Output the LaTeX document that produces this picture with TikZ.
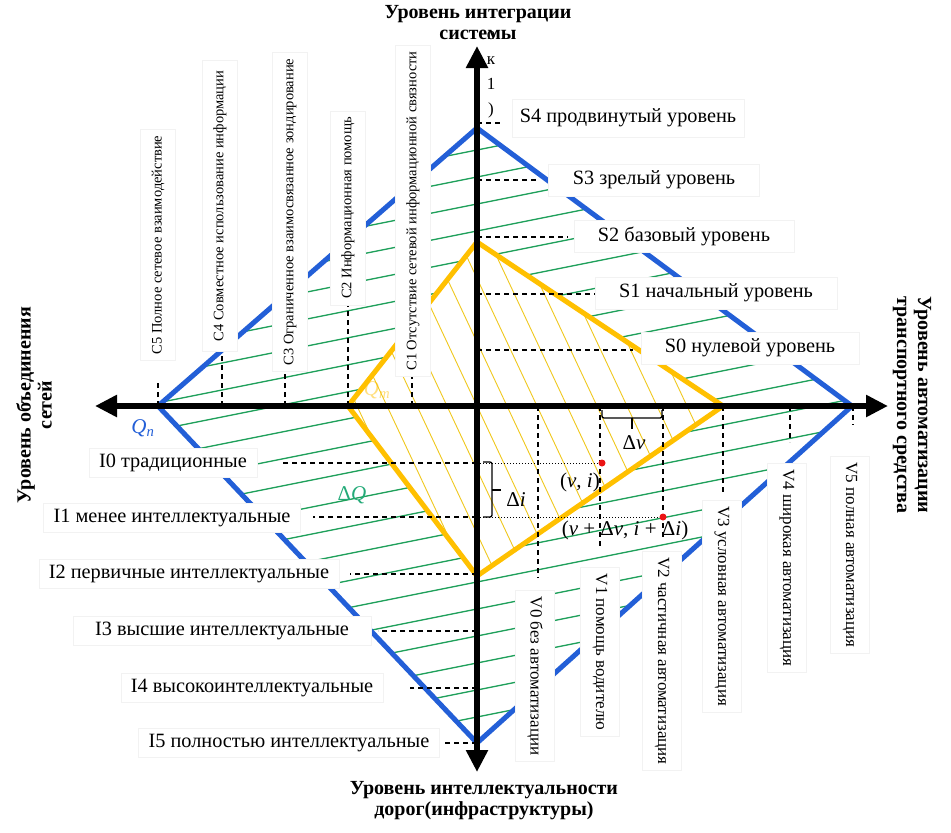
\documentclass[tikz,border=0pt]{standalone}
\usepackage{fontspec}
\setmainfont{Liberation Serif}
\usetikzlibrary{arrows.meta}
\definecolor{bl}{RGB}{35,95,215}
\definecolor{yl}{RGB}{255,192,0}
\definecolor{ylh}{RGB}{240,200,30}
\definecolor{gr}{RGB}{30,160,90}
\definecolor{dq}{RGB}{35,170,120}
\definecolor{rd}{RGB}{235,20,20}
\begin{document}
\begin{tikzpicture}[x=1pt,y=-1pt,
 axisline/.style={line width=6pt, {Triangle[length=22pt,width=21pt]}-{Triangle[length=22pt,width=21pt]}},
 bline/.style={bl, line width=5pt},
 yline/.style={yl, line width=5pt},
 ghatch/.style={gr, line width=1.3pt},
 yhatch/.style={ylh, line width=0.9pt},
 dline/.style={black, line width=1.2pt, dash pattern=on 5pt off 4pt},
 dotline/.style={black, line width=0.8pt, dash pattern=on 1pt off 2pt},
 lab/.style={fill=white, draw=black!5, line width=0.6pt},
 slab/.style={lab, font=\fontsize{20.3}{22}\selectfont, inner xsep=24pt, inner ysep=0pt, minimum height=32pt},
 ilab/.style={lab, font=\fontsize{20.3}{22}\selectfont, inner xsep=10pt, inner ysep=0pt, minimum height=29pt},
 clab/.style={lab, rotate=90, font=\fontsize{14.5}{16}\selectfont, inner xsep=6pt, inner ysep=11pt},
 vlab/.style={lab, rotate=-90, font=\fontsize{17}{19}\selectfont, inner xsep=6pt, inner ysep=12pt},
 ttl/.style={font=\fontsize{20}{21}\selectfont\bfseries, align=center},
 mth/.style={font=\fontsize{21}{24}\selectfont, inner sep=1pt},
 brk/.style={black, line width=1.3pt, rounded corners=2pt},
]
\useasboundingbox (0,0) rectangle (951,833);

% axes ends
\coordinate (O) at (477,406);
\coordinate (Ltip) at (95,406);
\coordinate (Rtip) at (888,406);
\coordinate (Ttip) at (477,46);
\coordinate (Btip) at (477,772);
% blue diamond
\coordinate (bT) at (477,128);
\coordinate (bR) at (852,406);
\coordinate (bB) at (477,743);
\coordinate (bL) at (158,406);
% yellow quadrilateral
\coordinate (yT) at (477,242);
\coordinate (yR) at (723,406);
\coordinate (yB) at (477,576);
\coordinate (yL) at (348,406);

% green hatching
\begin{scope}
\clip (bT)--(bR)--(bB)--(bL)--cycle;
\foreach \c in {150,177,...,750}
  \draw[ghatch] (120,{\c+71.4}) -- (880,{\c-80.6});
\end{scope}
\fill[white] (yT)--(yR)--(yB)--(yL)--cycle;
% yellow hatching
\begin{scope}
\clip (yT)--(yR)--(yB)--(yL)--cycle;
\foreach \d in {357,387,...,717}
  \draw[yhatch] ({\d-79.9},236) -- ({\d+82.7},582);
\end{scope}
\draw[yline] (yT)--(yR)--(yB)--(yL)--cycle;
\draw[bline] (bT)--(bR)--(bB)--(bL)--cycle;

% tick coordinates and dashed leaders
\foreach \n/\y/\e in {S4/123/500,S3/180/537,S2/237/568,S1/294/600,S0/350/633}{
  \coordinate (t\n) at (477,\y);
  \coordinate (e\n) at (\e,\y);
  \draw[dline] (t\n) -- (e\n);
}
\foreach \n/\y/\e in {I0/463/283,I1/517/313,I2/574/350,I3/631/378,I4/688/410,I5/743/443}{
  \coordinate (t\n) at (477,\y);
  \coordinate (e\n) at (\e,\y);
  \draw[dline] (t\n) -- (e\n);
}
\foreach \n/\x/\e in {C5/158/382,C4/222/347,C3/285/368,C2/348/303,C1/412/373}{
  \coordinate (t\n) at (\x,406);
  \coordinate (e\n) at (\x,\e);
  \draw[dline] (t\n) -- (e\n);
}
\foreach \n/\x/\e in {V0/538/578,V1/600/547,V2/663/540,V3/723/492,V4/790/442,V5/853/425}{
  \coordinate (t\n) at (\x,406);
  \coordinate (e\n) at (\x,\e);
  \draw[dline] (t\n) -- (e\n);
}
% points
\coordinate (vi) at (602,463);
\coordinate (vi2) at (663,517);
\draw[dotline] (tI0) -- (vi);
\draw[dotline] (tI1) -- (vi2);

% labels
\node[slab, inner xsep=8pt, minimum height=38pt] (S4) at (628,118) {S4 продвинутый уровень};
\node[slab] (S3) at (654,180) {S3 зрелый уровень};
\node[slab] (S2) at (684,236) {S2 базовый уровень};
\node[slab] (S1) at (716,293) {S1 начальный уровень};
\node[slab] (S0) at (750,348) {S0 нулевой уровень};

\node[ilab] (I0) at (173,463) {I0 традиционные};
\node[ilab] (I1) at (172,518) {I1 менее интеллектуальные};
\node[ilab] (I2) at (189,574) {I2 первичные интеллектуальные};
\node[ilab, inner xsep=22pt] (I3) at (222,631) {I3 высшие интеллектуальные};
\node[ilab] (I4) at (252,688) {I4 высокоинтеллектуальные};
\node[ilab] (I5) at (289,743) {I5 полностью интеллектуальные};

\node[clab] (C5) at (158,245) {C5 Полное сетевое взаимодействие};
\node[clab, inner xsep=10pt] (C4) at (220,206) {C4 Совместное использование информации};
\node[clab] (C3) at (290,212) {C3 Ограниченное взаимосвязанное зондирование};
\node[clab] (C2) at (348,208) {C2 Информационная помощь};
\node[clab] (C1) at (413,211) {C1 Отсутствие сетевой информационной связности};

\node[vlab] (V0) at (535,676) {V0 без автоматизации};
\node[vlab] (V1) at (600,652) {V1 помощь водителю};
\node[vlab] (V2) at (662,661) {V2 частичная автоматизация};
\node[vlab] (V3) at (722,606) {V3 условная автоматизация};
\node[vlab] (V4) at (787,568) {V4 широкая автоматизация};
\node[vlab] (V5) at (850,555) {V5 полная автоматизация};

% axes
\draw[axisline] (Ltip) -- (Rtip);
\draw[axisline] (Btip) -- (Ttip);

% braces and points
\draw[brk] (602,410) -- (602,418) -- (662,418) -- (662,410);
\draw[brk] (632,418) -- (632,429);
\draw[brk] (483,462) -- (492,462) -- (492,517) -- (483,517);
\draw[brk] (492,490) -- (501,490);
\fill[rd] (vi) circle (3.5pt);
\fill[rd] (vi2) circle (3.5pt);

% math labels
\node[mth, text=bl] (Qn) at (143,428) {\textit{Q}\textsubscript{\textit{n}}};
\node[mth, text=yl, opacity=0.5] (Qm) at (377,390) {\textit{Q}\textsubscript{\textit{m}}};
\node[mth, text=dq] (dQ) at (352,495) {Δ\textit{Q}};
\node[mth] (dv) at (634,443) {Δ\textit{v}};
\node[mth] (di) at (516,500) {Δ\textit{i}};
\node[mth] (pvi) at (580,482) {(\textit{v}, \textit{i})};
\node[mth] (pvi2) at (625,530) {(\textit{v} + Δ\textit{v}, \textit{i} + Δ\textit{i})};

% stray vertical characters
\node[font=\fontsize{17}{25}\selectfont, align=center, inner sep=0pt] (odd) at (491,75) {о\\к\\1\\)};

% axis titles
\node[ttl] (tTop) at (478,23) {Уровень интеграции\\системы};
\node[ttl] (tBot) at (484,801) {Уровень интеллектуальности\\дорог(инфраструктуры)};
\node[ttl, rotate=90] (tLeft) at (34,405) {Уровень объединения\\сетей};
\node[ttl, rotate=-90] (tRight) at (912,405) {Уровень автоматизации\\транспортного средства};
\end{tikzpicture}
\end{document}
